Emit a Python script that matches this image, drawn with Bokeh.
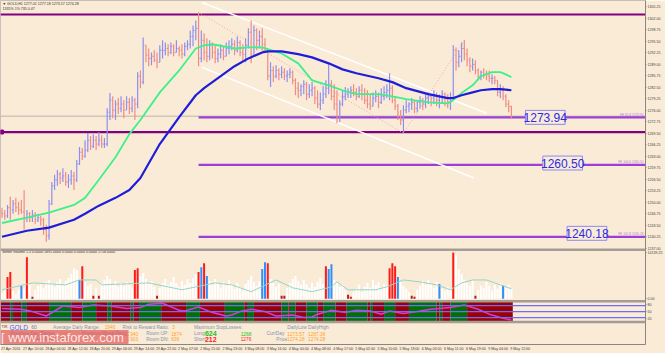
from bokeh.plotting import figure
from bokeh.models import Range1d, FixedTicker, Span, Label, ColumnDataSource
from bokeh.embed import file_html
from bokeh.resources import INLINE
from bokeh.core.properties import value

BG = "#FAEBD7"

# ---------------- data ----------------
time_labels = ["27 Apr 2016", "27 Apr 20:00", "28 Apr 04:00", "28 Apr 12:00", "28 Apr 20:00",
               "29 Apr 06:00", "29 Apr 14:00", "29 Apr 22:00", "2 May 07:00", "2 May 15:00",
               "2 May 23:00", "3 May 08:00", "3 May 16:00", "4 May 00:00", "4 May 08:00",
               "4 May 17:00", "5 May 02:00", "5 May 10:00", "5 May 18:00", "6 May 03:00",
               "6 May 11:00", "6 May 19:00", "9 May 04:00", "9 May 12:00"]

first_open = 1247.2
highs = [1248.4, 1247.8, 1249.2, 1251.5, 1250.6, 1251.2, 1250.1, 1250.6, 1253.4, 1247.8,
         1247.2, 1247.8, 1247.2, 1246.7, 1246.1, 1245.6, 1243.6, 1250.6, 1255.7, 1257.7,
         1259.1, 1258.5, 1259.6, 1258.5, 1257.9, 1259.1, 1258.5, 1261.9, 1265.6, 1265.3,
         1267.5, 1269.5, 1268.7, 1269.2, 1268.7, 1269.8, 1268.9, 1268.1, 1276.5, 1280.8,
         1279.9, 1278.8, 1279.4, 1279.9, 1278.8, 1279.9, 1279.4, 1279.9, 1279.4, 1286.7,
         1287.2, 1296.5, 1294.3, 1293.4, 1292.3, 1292.9, 1292.3, 1294.3, 1295.7, 1295.1,
         1294.6, 1295.1, 1294.6, 1295.7, 1294.0, 1294.6, 1295.1, 1295.7, 1298.5, 1299.9,
         1301.3, 1303.6, 1298.5, 1297.7, 1296.3, 1295.7, 1295.1, 1294.3, 1293.4, 1294.6,
         1294.0, 1295.1, 1295.7, 1296.3, 1295.7, 1296.8, 1295.7, 1294.6, 1296.3, 1299.1,
         1301.3, 1299.9, 1299.1, 1298.5, 1299.1, 1296.3, 1293.4, 1289.5, 1288.4, 1288.7,
         1287.8, 1288.4, 1287.8, 1287.2, 1287.8, 1287.2, 1285.0, 1283.9, 1283.3, 1284.4,
         1283.9, 1283.3, 1283.9, 1282.7, 1281.6, 1281.0, 1282.7, 1284.4, 1289.2, 1284.4,
         1283.3, 1281.6, 1278.8, 1281.6, 1282.5, 1282.2, 1282.7, 1283.3, 1282.2, 1282.7,
         1283.3, 1282.2, 1281.6, 1280.5, 1281.0, 1281.6, 1281.0, 1282.2, 1282.7, 1283.3,
         1286.4, 1283.0, 1279.9, 1277.7, 1276.0, 1277.4, 1278.8, 1278.2, 1279.4, 1278.8,
         1278.8, 1279.9, 1279.4, 1280.5, 1281.0, 1280.5, 1281.6, 1281.0, 1280.5, 1281.6,
         1281.0, 1280.5, 1281.0, 1294.3, 1293.7, 1292.9, 1295.1, 1295.7, 1293.4, 1290.9,
         1290.6, 1290.1, 1287.8, 1287.2, 1287.8, 1287.2, 1287.2, 1286.1, 1285.6, 1284.4,
         1283.3, 1282.7, 1280.5, 1278.8, 1277.2]
lows = [1245.6, 1245.0, 1245.6, 1245.0, 1246.7, 1247.2, 1246.4, 1246.7, 1242.2, 1244.4,
        1244.4, 1244.4, 1243.9, 1244.4, 1243.3, 1240.8, 1238.8, 1239.4, 1249.2, 1253.4,
        1254.6, 1255.1, 1255.7, 1254.6, 1254.0, 1254.9, 1253.4, 1255.7, 1260.5, 1261.9,
        1262.5, 1264.1, 1264.7, 1265.3, 1264.7, 1265.8, 1265.3, 1265.3, 1265.8, 1273.2,
        1273.7, 1273.2, 1274.9, 1275.4, 1273.7, 1276.0, 1274.9, 1275.4, 1273.2, 1276.5,
        1282.2, 1283.3, 1289.5, 1288.4, 1288.7, 1289.5, 1287.8, 1290.1, 1290.6, 1291.5,
        1291.2, 1291.8, 1291.2, 1292.3, 1291.2, 1290.6, 1291.2, 1292.9, 1293.4, 1294.0,
        1295.7, 1288.4, 1289.5, 1290.1, 1289.5, 1290.1, 1290.6, 1289.2, 1289.5, 1290.6,
        1290.1, 1291.2, 1291.8, 1292.9, 1291.5, 1292.3, 1291.2, 1290.1, 1289.5, 1293.4,
        1289.2, 1294.3, 1292.9, 1293.4, 1292.9, 1292.3, 1284.4, 1282.5, 1283.9, 1285.0,
        1284.4, 1285.0, 1284.4, 1283.9, 1285.0, 1283.3, 1280.2, 1279.4, 1279.9, 1280.5,
        1278.8, 1279.4, 1279.9, 1277.7, 1276.5, 1276.0, 1277.7, 1279.4, 1280.5, 1278.8,
        1276.0, 1272.3, 1272.6, 1277.1, 1278.8, 1279.4, 1279.4, 1279.9, 1278.8, 1279.4,
        1278.8, 1277.7, 1276.5, 1276.0, 1277.1, 1278.2, 1276.5, 1277.7, 1278.8, 1279.4,
        1278.8, 1277.9, 1276.0, 1273.2, 1271.8, 1269.5, 1275.1, 1275.4, 1276.0, 1275.1,
        1275.4, 1276.5, 1276.0, 1276.5, 1277.7, 1277.1, 1277.7, 1277.1, 1276.5, 1277.7,
        1277.1, 1276.5, 1276.0, 1278.8, 1287.2, 1288.1, 1289.5, 1290.1, 1288.4, 1286.7,
        1287.2, 1286.1, 1284.4, 1284.4, 1285.0, 1284.4, 1283.9, 1283.3, 1283.3, 1279.9,
        1279.4, 1278.8, 1276.8, 1275.4, 1273.6]
closes = [1246.7, 1246.1, 1248.4, 1247.8, 1249.5, 1248.4, 1247.8, 1247.2, 1245.6, 1246.7,
          1245.6, 1246.4, 1245.0, 1245.6, 1245.0, 1242.2, 1240.5, 1249.5, 1254.6, 1256.3,
          1257.9, 1256.8, 1257.4, 1255.7, 1256.3, 1257.4, 1256.3, 1260.8, 1264.1, 1263.0,
          1264.7, 1267.5, 1265.8, 1267.5, 1266.4, 1267.5, 1266.4, 1266.4, 1275.4, 1278.8,
          1276.0, 1277.7, 1276.5, 1277.7, 1276.0, 1278.2, 1276.5, 1278.8, 1277.7, 1285.6,
          1283.9, 1294.3, 1291.5, 1290.6, 1291.2, 1290.1, 1289.5, 1292.9, 1292.9, 1293.4,
          1292.3, 1294.0, 1292.3, 1293.4, 1292.9, 1291.8, 1294.0, 1294.6, 1296.8, 1298.5,
          1299.1, 1290.6, 1295.7, 1292.3, 1291.2, 1294.3, 1292.3, 1290.6, 1291.8, 1292.9,
          1291.2, 1293.4, 1294.0, 1294.6, 1292.9, 1295.1, 1292.3, 1291.8, 1294.3, 1298.0,
          1291.5, 1298.5, 1295.7, 1296.8, 1294.6, 1293.4, 1285.6, 1287.2, 1285.6, 1287.2,
          1286.1, 1286.7, 1285.6, 1286.1, 1286.7, 1284.4, 1282.2, 1281.6, 1282.7, 1283.3,
          1280.5, 1281.6, 1282.2, 1279.4, 1277.7, 1278.8, 1280.5, 1282.2, 1283.3, 1279.9,
          1277.7, 1273.7, 1277.7, 1279.9, 1280.5, 1281.0, 1281.6, 1281.0, 1279.9, 1281.6,
          1280.5, 1278.8, 1277.7, 1277.1, 1279.4, 1279.9, 1278.2, 1279.9, 1281.0, 1281.6,
          1282.2, 1278.8, 1277.1, 1274.3, 1273.2, 1276.0, 1277.1, 1277.7, 1278.2, 1276.5,
          1278.2, 1278.8, 1277.7, 1279.4, 1279.9, 1279.4, 1280.5, 1278.8, 1279.9, 1280.5,
          1279.4, 1278.2, 1278.8, 1292.9, 1289.5, 1291.2, 1293.4, 1291.8, 1290.1, 1288.4,
          1288.9, 1287.2, 1285.6, 1286.7, 1286.1, 1285.6, 1285.0, 1285.0, 1284.4, 1281.0,
          1281.6, 1279.9, 1277.7, 1277.0, 1274.3]

ma_idx = [0, 9, 17, 26, 30, 35, 41, 46, 50, 57, 64, 70, 73, 76, 84, 89, 94, 96, 101, 107,
          112, 118, 123, 128, 136, 141, 146, 154, 161, 163, 166, 170, 173, 177, 180, 182, 184]
ma_fast = [1244.1, 1245.6, 1247.0, 1249.2, 1251.2, 1256.3, 1262.7, 1269.2, 1273.2, 1281.0,
           1287.2, 1293.4, 1294.3, 1294.6, 1293.4, 1293.7, 1293.7, 1293.2, 1292.0, 1289.2,
           1284.4, 1283.0, 1281.6, 1280.5, 1280.5, 1279.9, 1279.1, 1278.2, 1277.9, 1278.8,
           1280.8, 1283.0, 1285.6, 1286.7, 1286.7, 1286.1, 1285.3]
ma_slow = [1240.2, 1241.9, 1242.8, 1245.0, 1246.7, 1249.0, 1251.2, 1253.4, 1256.8, 1266.4,
           1274.0, 1280.2, 1282.2, 1283.9, 1288.4, 1290.6, 1292.3, 1292.6, 1292.6, 1291.8,
           1290.9, 1289.2, 1287.5, 1286.4, 1285.0, 1283.9, 1282.2, 1280.5, 1279.4, 1279.4,
           1280.2, 1281.0, 1281.6, 1281.9, 1281.9, 1281.8, 1281.6]

volumes = [1800, 2400, 6600, 8100, 2400, 1500, 2700, 3900, 3000, 12600,
           4200, 600, 2700, 3900, 4500, 3300, 5100, 5700, 4500, 3600,
           5100, 6000, 4200, 5400, 6300, 7500, 9300, 8700, 5700, 9900,
           5100, 3900, 4500, 900, 3300, 900, 4500, 5700, 6900, 6000,
           4500, 5400, 3600, 4800, 3900, 5100, 4200, 3300, 8700, 9300,
           6900, 7800, 6000, 4500, 5400, 3600, 900, 3300, 4800, 6000,
           4200, 5100, 6600, 4800, 3600, 5400, 4200, 6000, 4800, 6300,
           7500, 8100, 9600, 10800, 6900, 5400, 4200, 6000, 4500, 3300,
           5100, 3900, 5700, 4500, 3000, 4800, 3600, 2400, 4500, 5700,
           6900, 5100, 3900, 5400, 9000, 11100, 10800, 6000, 4800, 3600,
           4500, 900, 900, 3300, 4800, 6000, 6900, 5400, 4200, 5700,
           4500, 3300, 4800, 3600, 5100, 6300, 4500, 9900, 9000, 10500,
           5700, 4800, 3600, 4200, 2700, 1200, 600, 2100, 3000, 4200,
           2100, 3600, 4800, 3300, 5700, 4200, 5100, 3300, 4500, 3900,
           9300, 10800, 9900, 6600, 5100, 3900, 3000, 2100, 900, 600,
           2700, 3900, 5400, 4200, 5700, 4500, 3300, 5100, 4500, 3000,
           2400, 3600, 2700, 14100, 13200, 9000, 7500, 5700, 4800, 3900,
           5400, 900, 2700, 3900, 3300, 5100, 3900, 2400, 4200, 3000,
           4800, 3900, 3300, 4200, 3000]
vol_red = [2, 3, 9, 29, 48, 49, 71, 73, 96, 117, 140, 141, 142, 163]
vol_blue = [7, 28, 72, 74, 94, 95, 118, 119, 143, 158, 181]
vol_dark = [11, 33, 35, 56, 101, 102, 125, 126, 148, 149, 171]
vol_max_label = 14139.25

vavg_idx = [0, 11, 23, 28, 34, 36, 53, 65, 77, 83, 90, 99, 105, 112, 119, 121, 125, 135,
            139, 145, 151, 157, 162, 166, 170, 175, 178, 184]
vavg = [2700, 4800, 4200, 5700, 5700, 4200, 4800, 2700, 4800, 4200, 2100, 5700, 3300, 2100,
        3600, 5100, 2700, 2700, 3600, 5700, 5100, 4200, 2700, 4800, 5700, 5700, 4800, 3000]

ind_idx = [0, 7, 11, 16, 19, 22, 28, 33, 39, 45, 50, 53, 58, 64, 66, 71, 76, 81, 83, 86, 90,
           95, 99, 105, 109, 112, 114, 119, 124, 128, 133, 137, 140, 145, 150, 155, 162, 167,
           172, 176, 181, 184]
ind_vals = [66, 62, 50, 28, 53, 78, 70, 83, 78, 66, 70, 87, 92, 57, 53, 73, 45, 28, 33, 50, 62,
            50, 28, 33, 20, 23, 37, 57, 45, 57, 53, 37, 53, 40, 50, 62, 70, 83, 62, 37, 17, 8]
ind_levels = [80, 50, 20]
band_bounds = [-0.5, 3, 4, 7, 9, 17, 25, 29, 34, 38, 39.5, 46.5, 47.5, 49.5, 57.5, 66.5, 71.5,
               80.5, 87.5, 88.5, 91, 101, 103.5, 104, 106, 110, 114, 116, 120.5, 124.5, 132,
               133, 134, 138, 142, 147, 157, 158, 159, 162, 168, 184.5]

top_level = 1303.0
mid_level = 1269.8
bid = 1274.28
fibo_levels = [1273.94, 1260.50, 1240.18]
fibo_names = ["FE 61.8 1273.94", "FE 100.0 1260.50", "FE 161.8 1240.18"]
fibo_start = 71
chan_upper = ([72.2, 175.1], [1306.4, 1275.1])
chan_lower = ([72.2, 170.4], [1288.1, 1256.8])
zig_idx = [71, 145, 167]
zig_val = [1303.6, 1269.5, 1295.7]

price_ticks = [1305.25, 1302.00, 1298.75, 1295.50, 1292.25, 1289.00, 1285.75, 1282.50,
               1279.25, 1276.00, 1272.75, 1269.50, 1266.25, 1263.00, 1259.75, 1256.50,
               1253.25, 1250.00, 1246.75, 1243.50, 1240.25, 1237.00]

# ---------------- layout helpers (pixel -> data) ----------------
X0, DX = 1.5, 2.79
P0, DP = 1306.96, 0.2817
FW, FH = 650, 345
F = value("Liberation Sans")
SMALL = "3.6px"


def xi(px):
    return (px - X0) / DX


def py(pyy):
    return P0 - DP * pyy


def span_range(v_bottom, v_top, y_bottom, y_top):
    fb = (FH - y_bottom) / FH
    ft = (FH - y_top) / FH
    s = (v_top - v_bottom) / (ft - fb)
    start = v_bottom - fb * s
    return Range1d(start, start + s)


CW = {" ": .278, ":": .278, ".": .278, "A": .667, "M": .833, "p": .556, "r": .333, "a": .556,
      "y": .5}


def text_w(s, size):
    return sum(CW.get(ch, .556) for ch in s) * size


p = figure(width=665, height=353, output_backend="svg", toolbar_location=None,
           x_range=Range1d(xi(0), xi(FW)), y_range=Range1d(py(FH), py(0)),
           y_axis_location="right", min_border_left=0, min_border_top=0,
           min_border_right=665 - FW, min_border_bottom=8,
           background_fill_color=BG, border_fill_color=BG, outline_line_color="#c8c0b8")
p.grid.visible = False
p.extra_y_ranges = {"vol": span_range(0, vol_max_label, 299, 252.5),
                    "ind": span_range(0, 100, 322, 302)}

# ---------------- price bars ----------------
n = len(closes)
idx = list(range(n))
opens = [first_open] + closes[:-1]
UP, DN = "#8f8ff0", "#f08c84"
cols = [UP if c >= o else DN for o, c in zip(opens, closes)]
hi = [max(h, o, c) for h, o, c in zip(highs, opens, closes)]
lo = [min(l, o, c) for l, o, c in zip(lows, opens, closes)]
src = ColumnDataSource(dict(x=idx, xl=[i - 0.4 for i in idx], xr=[i + 0.4 for i in idx],
                            h=hi, l=lo, o=opens, c=closes, col=cols))

p.line([xi(0), xi(FW)], [bid, bid], color="#b9b3ad", line_width=1)
for lv in fibo_levels:
    p.line([fibo_start, xi(FW)], [lv, lv], color="#9b3fd6", line_width=2.2)
for lv in [top_level, mid_level]:
    p.line([xi(0), xi(FW)], [lv, lv], color="#800080", line_width=2.2)
p.rect(x=[xi(1.5)], y=[mid_level], width=3 / DX, height=4 * DP, color="#800080")

p.line(chan_upper[0], chan_upper[1], color="white", line_width=1.5)
p.line(chan_lower[0], chan_lower[1], color="white", line_width=1.5)
p.line(zig_idx, zig_val, color="#f4a0a0", line_width=1, line_dash="1 2")

p.segment(x0="x", y0="l", x1="x", y1="h", color="col", line_width=1.2, source=src)
p.segment(x0="xl", y0="o", x1="x", y1="o", color="col", line_width=1, source=src)
p.segment(x0="x", y0="c", x1="xr", y1="c", color="col", line_width=1, source=src)

p.line(ma_idx, ma_fast, color="#3ff08a", line_width=1.8)
p.line(ma_idx, ma_slow, color="#1e1ed8", line_width=2.2)

# fibo labels
box_x = [xi(549), xi(566.5), xi(591)]
box_y = [1273.94, py(163), py(233.5)]
p.rect(x=box_x, y=box_y, width=40 / DX, height=14 * DP, fill_color=BG,
       line_color="#8a8af0", line_width=1)
p.text(x=box_x, y=box_y, text=[f"{v:.2f}" for v in fibo_levels], text_align="center",
       text_baseline="middle", text_font=F, text_font_size="12px", text_color="#2a2ae6")
p.text(x=[xi(648)] * 3, y=[lv + 0.3 for lv in fibo_levels], text=fibo_names,
       text_align="right", text_baseline="bottom", text_font=F,
       text_font_size="3.2px", text_color="#b77ae0")

# ---------------- panel separators ----------------
for yy in [250, 301.5, 322.5]:
    p.add_layout(Span(location=py(yy), dimension="width", line_color="#a59d95", line_width=2.5))

# ---------------- volume ----------------
vcol = []
for i in idx:
    if i in vol_red:
        vcol.append("#ff1a1a")
    elif i in vol_blue:
        vcol.append("#2f8fff")
    elif i in vol_dark:
        vcol.append("#b02020")
    else:
        vcol.append("#ffffff")
p.vbar(x=idx, top=volumes, bottom=0, width=0.72, fill_color=vcol, line_color=None,
       y_range_name="vol")
p.line(vavg_idx, vavg, color="#92d6c8", line_width=1, y_range_name="vol")

# ---------------- indicator band ----------------
bl = band_bounds[:-1]
br = band_bounds[1:]
bc = ["#9c0000" if k % 2 == 0 else "#007000" for k in range(len(bl))]
p.quad(left=bl, right=br, bottom=0, top=100, fill_color=bc, line_color=None, y_range_name="ind")
for lv in ind_levels:
    p.add_layout(Span(location=lv, dimension="width", line_color="#6c6cff", line_width=1.3,
                      y_range_name="ind"))
p.line(ind_idx, ind_vals, color="#d23cd2", line_width=1.5, y_range_name="ind")

# ---------------- texts ----------------
p.text(x=[xi(2)], y=[py(3.5)], text=["\u25bc GOLD,H1  1277.01 1277.18 1273.57 1274.28"],
       text_font=F, text_font_size=SMALL, text_color="#303030", text_baseline="middle")
p.text(x=[xi(2)], y=[py(8.5)], text=["1335%    1% 735     0.47"],
       text_font=F, text_font_size=SMALL, text_color="#303030", text_baseline="middle")
p.text(x=[xi(2)], y=[py(252.5)],
       text=["Better Volume 1.5 0.0000 1891.0000 0.0000 0.0000 0.0000 1758.0000"],
       text_font=F, text_font_size=SMALL, text_color="#303030", text_baseline="middle")
p.text(x=[xi(2)], y=[py(305)], text=["TDI 12.2810.64"],
       text_font=F, text_font_size=SMALL, text_color="#202020", text_baseline="middle")

GR, OR = "#8094b2", "#ffa31a"
R1, R2, R3 = 327.5, 334, 339.5
rows = [
    (1, R1, "TIR", "#404040", "3.6px", "normal"),
    (9, R1, "GOLD", "#3a5cff", "6.5px", "normal"),
    (31, R1, "60", "#6a7fa8", "5px", "normal"),
    (53, R1, "Average Daily Range:", GR, "4.8px", "normal"),
    (105, R1, "1946", OR, "4.8px", "normal"),
    (123, R1, "Risk to Reward Ratio:", GR, "4.8px", "normal"),
    (173, R1, "3", OR, "4.8px", "normal"),
    (195, R1, "Maximum StopLosses:", GR, "4.8px", "normal"),
    (289, R1, "DailyLow", GR, "4.8px", "normal"),
    (310, R1, "DailyHigh", GR, "4.8px", "normal"),
    (10, R2, "Previous Day Range", GR, "4.8px", "normal"),
    (60, R2, "2197", OR, "4.8px", "normal"),
    (82, R2, "Previous Week Range", GR, "4.8px", "normal"),
    (128, R2, "1940", OR, "4.8px", "normal"),
    (147, R2, "Room UP:", GR, "4.8px", "normal"),
    (172, R2, "1874", OR, "4.8px", "normal"),
    (195, R2, "Long:", GR, "4.8px", "normal"),
    (206, R2, "624", "#19c419", "7px", "bold"),
    (242, R2, "1268", "#19c419", "4.8px", "normal"),
    (268, R2, "CurrDay", GR, "4.8px", "normal"),
    (289, R2, "1273.57", OR, "4.8px", "normal"),
    (310, R2, "1287.36", OR, "4.8px", "normal"),
    (10, R3, "Average Week Range", GR, "4.8px", "normal"),
    (60, R3, "1909", OR, "4.8px", "normal"),
    (128, R3, "1903", OR, "4.8px", "normal"),
    (147, R3, "Room DN:", GR, "4.8px", "normal"),
    (172, R3, "838", OR, "4.8px", "normal"),
    (195, R3, "Short:", GR, "4.8px", "normal"),
    (206, R3, "212", "#ff1a1a", "7px", "bold"),
    (242, R3, "1276", "#ff1a1a", "4.8px", "normal"),
    (278, R3, "Price", GR, "4.8px", "normal"),
    (289, R3, "1274.28", OR, "4.8px", "normal"),
    (310, R3, "1274.28", OR, "4.8px", "normal"),
]
for fs in ["normal", "bold"]:
    rr = [r for r in rows if r[5] == fs]
    p.text(x=[xi(r[0]) for r in rr], y=[py(r[1]) for r in rr], text=[r[2] for r in rr],
           text_color=[r[3] for r in rr], text_font_size=[r[4] for r in rr], text_font=F,
           text_font_style=fs, text_baseline="middle")

# watermark
p.quad(left=[xi(0)], right=[xi(129)], bottom=[py(344.5)], top=[py(330.5)], fill_color="#e05a5a",
       fill_alpha=0.72, line_color=None)
p.text(x=[xi(66)], y=[py(337.5)], text=["[ www.instaforex.com ]"], text_font=F,
       text_font_size="13px", text_color="#fde8e8", text_align="center", text_baseline="middle")

# ---------------- axes ----------------
extra_ticks = {round(py(252.5), 4): "14139.25", round(py(299), 4): "0.00",
               round(py(305.3), 4): "80", round(py(312), 4): "50", round(py(318.7), 4): "20"}
ticks = price_ticks + list(extra_ticks.keys())
ya = p.yaxis[0]
ya.ticker = FixedTicker(ticks=ticks)
ov = {t: f"{t:.2f}" for t in price_ticks}
ov.update(extra_ticks)
ya.major_label_overrides = ov
ya.major_label_text_font_size = SMALL
ya.major_label_text_font = "Liberation Sans"
ya.major_label_text_color = "#404040"
ya.major_tick_out = 1
ya.major_tick_in = 0
ya.minor_tick_out = 0
ya.minor_tick_in = 0
ya.major_label_standoff = 1
ya.axis_line_color = "#8a8580"
ya.major_tick_line_color = "#8a8580"

# time labels: MT4 writes them starting at their bar, so centre each label
# half its width to the right of the bar
xt = []
for k, t in enumerate(time_labels):
    left_px = X0 + DX * (8 * k) - 1.0
    xt.append(round(xi(left_px + text_w(t, 3.6) / 2), 4))
xa = p.xaxis[0]
xa.ticker = FixedTicker(ticks=xt)
xa.major_label_overrides = {x: t for x, t in zip(xt, time_labels)}
xa.major_label_text_font_size = SMALL
xa.major_label_text_font = "Liberation Sans"
xa.major_label_text_color = "#404040"
xa.major_tick_out = 0
xa.major_tick_in = 0
xa.minor_tick_out = 0
xa.minor_tick_in = 0
xa.major_label_standoff = 2
xa.axis_line_color = "#8a8580"
xa.major_tick_line_color = None

# right-axis highlighted values
for yv, txt, bgc in [(top_level, "1303.00", "#800080"), (bid, "1274.28", "#000000"),
                     (mid_level, "1269.78", "#800080")]:
    p.add_layout(Label(x=FW + 1, y=yv, x_units="screen", text=txt, text_font_size=SMALL,
                       text_color="white", text_baseline="middle", background_fill_color=bgc,
                       text_font="Liberation Sans", level="overlay"))

open("out.html", "w").write(file_html(p, INLINE))
